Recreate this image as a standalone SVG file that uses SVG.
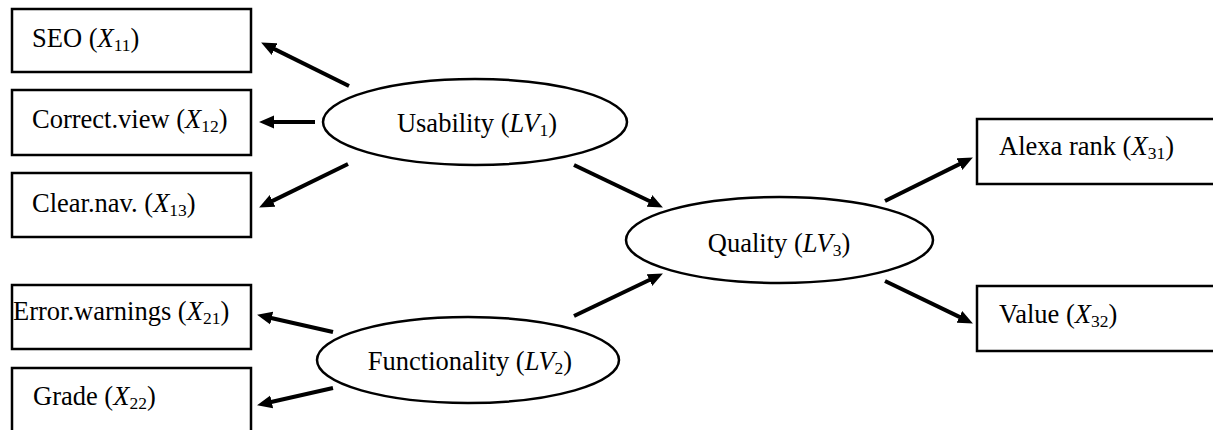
<svg xmlns="http://www.w3.org/2000/svg" width="1213" height="430" viewBox="0 0 1213 430">
<style>
  .box { fill: #ffffff; stroke: #000000; stroke-width: 2.5; }
  .ell { fill: #ffffff; stroke: #000000; stroke-width: 2.5; }
  .t { font-family: "Liberation Serif", "Times New Roman", serif; font-size: 26.5px; fill: #000000; }
  .i { font-style: italic; }
  .s { font-size: 17.5px; }
  .conn line { stroke: #000000; stroke-width: 4; marker-end: url(#ah); }
</style>
<defs>
  <marker id="ah" markerUnits="userSpaceOnUse" markerWidth="16" markerHeight="14" refX="4" refY="7" orient="auto">
    <path d="M0,0.5 L15,7 L0,13.5 z" fill="#000000"/>
  </marker>
</defs>
<rect width="1213" height="430" fill="#ffffff"/>

<g id="seo">
  <rect class="box" x="12" y="9" width="239" height="63"/>
  <text class="t" x="32" y="47">SEO (<tspan class="i">X</tspan><tspan class="s" dy="4">11</tspan><tspan dy="-4">)</tspan></text>
</g>
<g id="correct-view">
  <rect class="box" x="12" y="90" width="239" height="65"/>
  <text class="t" x="32" y="128">Correct.view (<tspan class="i">X</tspan><tspan class="s" dy="4">12</tspan><tspan dy="-4">)</tspan></text>
</g>
<g id="clear-nav">
  <rect class="box" x="12" y="173" width="239" height="64"/>
  <text class="t" x="32" y="212">Clear.nav. (<tspan class="i">X</tspan><tspan class="s" dy="4">13</tspan><tspan dy="-4">)</tspan></text>
</g>
<g id="error-warnings">
  <rect class="box" x="12" y="285" width="239" height="64"/>
  <text class="t" x="13" y="320">Error.warnings (<tspan class="i">X</tspan><tspan class="s" dy="4">21</tspan><tspan dy="-4">)</tspan></text>
</g>
<g id="grade">
  <rect class="box" x="12" y="368" width="239" height="70"/>
  <text class="t" x="33" y="405">Grade (<tspan class="i">X</tspan><tspan class="s" dy="4">22</tspan><tspan dy="-4">)</tspan></text>
</g>

<g id="usability">
  <ellipse class="ell" cx="475" cy="122" rx="152" ry="43"/>
  <text class="t" x="477" y="132" text-anchor="middle">Usability (<tspan class="i">LV</tspan><tspan class="s" dy="4">1</tspan><tspan dy="-4">)</tspan></text>
</g>
<g id="functionality">
  <ellipse class="ell" cx="468" cy="360" rx="151" ry="43"/>
  <text class="t" x="470" y="370" text-anchor="middle">Functionality (<tspan class="i">LV</tspan><tspan class="s" dy="4">2</tspan><tspan dy="-4">)</tspan></text>
</g>
<g id="quality">
  <ellipse class="ell" cx="779.5" cy="240" rx="153.5" ry="43"/>
  <text class="t" x="779" y="252" text-anchor="middle">Quality (<tspan class="i">LV</tspan><tspan class="s" dy="4">3</tspan><tspan dy="-4">)</tspan></text>
</g>

<g id="alexa-rank">
  <rect class="box" x="977" y="119" width="250" height="65"/>
  <text class="t" x="999" y="155">Alexa rank (<tspan class="i">X</tspan><tspan class="s" dy="4">31</tspan><tspan dy="-4">)</tspan></text>
</g>
<g id="value">
  <rect class="box" x="977" y="286" width="250" height="65"/>
  <text class="t" x="999" y="323">Value (<tspan class="i">X</tspan><tspan class="s" dy="4">32</tspan><tspan dy="-4">)</tspan></text>
</g>

<g id="connectors" class="conn">
  <line x1="349" y1="86" x2="271" y2="47.4"/>
  <line x1="315" y1="122" x2="270" y2="122"/>
  <line x1="348" y1="164" x2="269" y2="202.6"/>
  <line x1="333" y1="332" x2="267.8" y2="317.2"/>
  <line x1="333" y1="388" x2="267.8" y2="402.8"/>
  <line x1="574" y1="165" x2="653" y2="202.7"/>
  <line x1="574" y1="316" x2="653" y2="278.3"/>
  <line x1="885" y1="201" x2="963" y2="162.4"/>
  <line x1="885" y1="281" x2="963" y2="318.6"/>
</g>
</svg>
